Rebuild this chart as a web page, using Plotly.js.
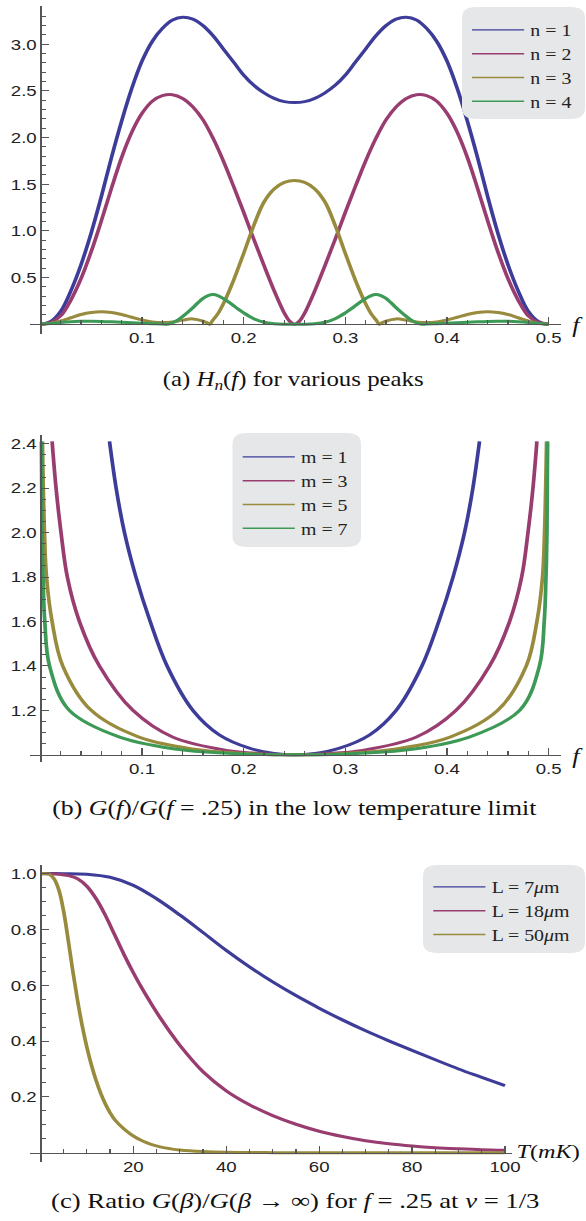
<!DOCTYPE html>
<html>
<head>
<meta charset="utf-8">
<script src="https://cdn.plot.ly/plotly-3.0.1.min.js"></script>
<style>
  html, body { margin: 0; padding: 0; background: #ffffff; }
  #wrap { width: 586px; height: 1221px; overflow: hidden; position: relative; }
  #plot { width: 472px; height: 1221px; transform-origin: 0 0; }
</style>
</head>
<body>
<div id="wrap"><div id="plot"></div></div>
<script>
// ---------------- data: panel (a) H_n(f) ----------------
const seriesA = ['n = 1', 'n = 2', 'n = 3', 'n = 4'];
const fA_n1 = [0,0.01,0.02,0.03,0.04,0.05,0.06,0.07,0.08,0.09,0.10,0.11,0.12,0.13,0.14,0.15,0.16,0.17,0.18,0.19,0.20,0.21,0.22,0.23,0.24,0.25,
  0.26,0.27,0.28,0.29,0.30,0.31,0.32,0.33,0.34,0.35,0.36,0.37,0.38,0.39,0.40,0.41,0.42,0.43,0.44,0.45,0.46,0.47,0.48,0.49,0.50];
const hA_n1 = [0,0.03,0.14,0.36,0.64,0.98,1.37,1.79,2.18,2.53,2.82,3.03,3.17,3.26,3.29,3.27,3.20,3.09,2.95,2.81,2.67,2.56,2.48,2.42,2.385,2.375,
  2.385,2.42,2.48,2.56,2.67,2.81,2.95,3.09,3.20,3.27,3.29,3.26,3.17,3.03,2.82,2.53,2.18,1.79,1.37,0.98,0.64,0.36,0.14,0.03,0];
const fA_n2 = [0,0.01,0.02,0.03,0.04,0.05,0.06,0.07,0.08,0.09,0.10,0.11,0.12,0.13,0.14,0.15,0.16,0.17,0.18,0.19,0.20,0.21,0.22,0.23,0.24,0.245,0.25,
  0.255,0.26,0.27,0.28,0.29,0.30,0.31,0.32,0.33,0.34,0.35,0.36,0.37,0.38,0.39,0.40,0.41,0.42,0.43,0.44,0.45,0.46,0.47,0.48,0.49,0.50];
const hA_n2 = [0,0.02,0.09,0.26,0.49,0.78,1.11,1.46,1.79,2.06,2.26,2.39,2.45,2.46,2.42,2.33,2.19,1.99,1.75,1.48,1.20,0.91,0.63,0.36,0.12,0.035,0,
  0.035,0.12,0.36,0.63,0.91,1.20,1.48,1.75,1.99,2.19,2.33,2.42,2.46,2.45,2.39,2.26,2.06,1.79,1.46,1.11,0.78,0.49,0.26,0.09,0.02,0];
const fA_n3 = [0,0.01,0.02,0.03,0.04,0.05,0.06,0.07,0.08,0.09,0.10,0.11,0.12,0.13,0.14,0.15,0.16,0.1647,0.1667,0.1687,0.175,0.18,0.19,0.20,0.21,0.22,0.23,0.24,0.25,
  0.26,0.27,0.28,0.29,0.30,0.31,0.32,0.325,0.3313,0.3333,0.3353,0.34,0.35,0.36,0.37,0.38,0.39,0.40,0.41,0.42,0.43,0.44,0.45,0.46,0.47,0.48,0.49,0.50];
const hA_n3 = [0,0.01,0.035,0.07,0.105,0.127,0.135,0.127,0.105,0.075,0.047,0.026,0.018,0.025,0.045,0.058,0.035,0.012,0,0.03,0.12,0.22,0.47,0.76,1.06,1.31,1.45,1.52,1.54,
  1.52,1.45,1.31,1.06,0.76,0.47,0.22,0.12,0.03,0,0.012,0.035,0.058,0.045,0.025,0.018,0.026,0.047,0.075,0.105,0.127,0.135,0.127,0.105,0.07,0.035,0.01,0];
const fA_n4 = [0,0.01,0.02,0.03,0.04,0.05,0.06,0.07,0.08,0.09,0.10,0.11,0.12,0.123,0.125,0.127,0.13,0.135,0.14,0.145,0.15,0.155,0.16,0.165,0.17,0.175,0.18,0.185,0.19,0.195,0.20,0.21,0.22,0.23,0.24,0.25,
  0.26,0.27,0.28,0.29,0.30,0.305,0.31,0.315,0.32,0.325,0.33,0.335,0.34,0.345,0.35,0.355,0.36,0.365,0.37,0.373,0.375,0.377,0.38,0.39,0.40,0.41,0.42,0.43,0.44,0.45,0.46,0.47,0.48,0.49,0.50];
const hA_n4 = [0,0.008,0.02,0.028,0.032,0.033,0.031,0.027,0.022,0.016,0.011,0.006,0.002,0.001,0,0.004,0.016,0.045,0.085,0.13,0.178,0.23,0.278,0.308,0.318,0.305,0.276,0.24,0.20,0.16,0.122,0.06,0.022,0.006,0.001,0,
  0.001,0.006,0.022,0.06,0.122,0.16,0.20,0.24,0.276,0.305,0.318,0.308,0.278,0.23,0.178,0.13,0.085,0.045,0.016,0.004,0,0.001,0.002,0.006,0.011,0.016,0.022,0.027,0.031,0.033,0.032,0.028,0.02,0.008,0];

// ---------------- data: panel (b) G(f)/G(f=.25) ----------------
const seriesB = ['m = 1', 'm = 3', 'm = 5', 'm = 7'];
const fB_m1 = [0.068,0.0745,0.0827,0.094,0.108,0.1246,0.150,0.176,0.2056,0.23,0.25,0.27,0.2944,0.324,0.350,0.3754,0.392,0.406,0.4173,0.4255,0.432];
const gB_m1 = [2.41,2.2,2.0,1.8,1.6,1.4,1.2,1.09,1.03,1.006,1.0,1.006,1.03,1.09,1.2,1.4,1.6,1.8,2.0,2.2,2.41];
const fB_m3 = [0.0115,0.0154,0.0203,0.0265,0.0384,0.058,0.091,0.130,0.183,0.22,0.25,0.28,0.317,0.370,0.409,0.442,0.4616,0.4735,0.4797,0.4846,0.4885];
const gB_m3 = [2.41,2.2,2.0,1.8,1.6,1.4,1.2,1.08,1.02,1.005,1.0,1.005,1.02,1.08,1.2,1.4,1.6,1.8,2.0,2.2,2.41];
const fB_m5 = [0.002,0.004,0.006,0.0115,0.022,0.050,0.097,0.16,0.21,0.25,0.29,0.34,0.403,0.450,0.478,0.4885,0.494,0.496,0.498];
const gB_m5 = [2.41,2.0,1.8,1.6,1.4,1.2,1.08,1.02,1.004,1.0,1.004,1.02,1.08,1.2,1.4,1.6,1.8,2.0,2.41];
const fB_m7 = [0.001,0.0016,0.0026,0.0043,0.009,0.0285,0.078,0.143,0.20,0.25,0.30,0.357,0.422,0.4715,0.491,0.4957,0.4974,0.4984,0.499];
const gB_m7 = [2.41,2.0,1.8,1.6,1.4,1.2,1.08,1.02,1.004,1.0,1.004,1.02,1.08,1.2,1.4,1.6,1.8,2.0,2.41];

// ---------------- data: panel (c) G(beta)/G(beta->inf) vs T ----------------
const seriesC = ['L = 7<i>μ</i>m', 'L = 18<i>μ</i>m', 'L = 50<i>μ</i>m'];
const tC_L7 = [0,5,10,15,20,25,30,35,40,45,50,55,60,65,70,75,80,85,90,95,100];
const gC_L7 = [1.0,1.0,0.998,0.987,0.958,0.91,0.852,0.789,0.725,0.666,0.612,0.563,0.518,0.476,0.437,0.401,0.367,0.333,0.30,0.27,0.24];
const tC_L18 = [0,2,4,6,8,10,12,14,16,18,20,22,24,26,28,30,35,40,45,50,55,60,65,70,75,80,85,90,95,100];
const gC_L18 = [1.0,1.0,0.998,0.993,0.982,0.955,0.91,0.85,0.78,0.71,0.645,0.585,0.53,0.478,0.43,0.385,0.29,0.222,0.172,0.133,0.102,0.077,0.058,0.043,0.032,0.024,0.018,0.014,0.011,0.009];
const tC_L50 = [0,1,2,3,4,5,6,7,8,9,10,11,12,13,14,15,16,18,20,22,24,26,28,30,35,40,50,60,70,80,90,100];
const gC_L50 = [1.0,1.0,0.997,0.98,0.94,0.865,0.76,0.648,0.545,0.455,0.378,0.313,0.258,0.212,0.174,0.143,0.118,0.085,0.06,0.042,0.029,0.02,0.014,0.0095,0.004,0.0015,0.0002,0,0,0,0,0];

// ---------------- tick labels ----------------
const tickA_x = [0.1,0.2,0.3,0.4,0.5];
const tickA_xText = ['0.1','0.2','0.3','0.4','0.5'];
const tickA_y = [0.5,1.0,1.5,2.0,2.5,3.0];
const tickA_yText = ['0.5','1.0','1.5','2.0','2.5','3.0'];
const tickB_y = [1.2,1.4,1.6,1.8,2.0,2.2,2.4];
const tickB_yText = ['1.2','1.4','1.6','1.8','2.0','2.2','2.4'];
const tickC_x = [20,40,60,80,100];
const tickC_xText = ['20','40','60','80','100'];
const tickC_y = [0.2,0.4,0.6,0.8,1.0];
const tickC_yText = ['0.2','0.4','0.6','0.8','1.0'];

const colors = ['#3D3D99', '#993D71', '#998B3D', '#3D9956'];

// ---------------- geometry (reference is stretched horizontally) ----------------
const W = 472, H = 1221, S = 586 / W;
document.getElementById('plot').style.transform = 'scaleX(' + S + ')';
const X = v => v / 586;      // reference pixel x -> paper
const Y = v => 1 - v / H;    // reference pixel y -> paper

function steps(a, b, d) { const out = []; for (let k = 0; a + k * d <= b + 1e-9; k++) out.push(+(a + k * d).toFixed(4)); return out; }

const axisColor = '#555555';
const tickFont = {family: 'Liberation Sans, Arial, sans-serif', size: 15, color: '#222222'};
function xAxis(o) {
  return Object.assign({
    anchor: 'free', showline: true, linecolor: axisColor, linewidth: 1, zeroline: false, showgrid: false,
    ticks: 'inside', ticklen: 7, tickwidth: 1, tickcolor: axisColor, tickmode: 'array', tickfont: tickFont,
    fixedrange: true
  }, o);
}
function yAxis(o) {
  return Object.assign({
    anchor: 'free', showline: true, linecolor: axisColor, linewidth: 1, zeroline: false, showgrid: false,
    ticks: 'inside', ticklen: 7 / S, tickwidth: 1, tickcolor: axisColor, tickmode: 'array', tickfont: tickFont,
    fixedrange: true
  }, o);
}
const minorX = vals => ({tickmode: 'array', tickvals: vals, ticks: 'inside', ticklen: 4, tickwidth: 1, tickcolor: axisColor});
const minorY = vals => ({tickmode: 'array', tickvals: vals, ticks: 'inside', ticklen: 4 / S, tickwidth: 1, tickcolor: axisColor});

// ---------------- traces ----------------
const traces = [];
function addSeries(xs, ys, name, color, xa, ya, lg) {
  traces.push({x: xs, y: ys, type: 'scatter', mode: 'lines', name: name, legendgroup: lg + name,
    line: {color: color, width: 3, shape: 'spline', smoothing: 1}, xaxis: xa, yaxis: ya,
    showlegend: false, hoverinfo: 'skip'});
  traces.push({x: [null], y: [null], type: 'scatter', mode: 'lines', name: name, legendgroup: lg + name,
    line: {color: color, width: 1.4}, xaxis: xa, yaxis: ya, legend: lg, showlegend: true, hoverinfo: 'skip'});
}
addSeries(fA_n1, hA_n1, seriesA[0], colors[0], 'x', 'y', 'legend');
addSeries(fA_n2, hA_n2, seriesA[1], colors[1], 'x', 'y', 'legend');
addSeries(fA_n3, hA_n3, seriesA[2], colors[2], 'x', 'y', 'legend');
addSeries(fA_n4, hA_n4, seriesA[3], colors[3], 'x', 'y', 'legend');
addSeries(fB_m1, gB_m1, seriesB[0], colors[0], 'x2', 'y2', 'legend2');
addSeries(fB_m3, gB_m3, seriesB[1], colors[1], 'x2', 'y2', 'legend2');
addSeries(fB_m5, gB_m5, seriesB[2], colors[2], 'x2', 'y2', 'legend2');
addSeries(fB_m7, gB_m7, seriesB[3], colors[3], 'x2', 'y2', 'legend2');
addSeries(tC_L7, gC_L7, seriesC[0], colors[0], 'x3', 'y3', 'legend3');
addSeries(tC_L18, gC_L18, seriesC[1], colors[1], 'x3', 'y3', 'legend3');
addSeries(tC_L50, gC_L50, seriesC[2], colors[2], 'x3', 'y3', 'legend3');

// ---------------- legend boxes (rounded) ----------------
function roundBox(x0, y0, x1, y1, rx, ry) {
  const p = (x, y) => X(x) + ',' + Y(y);
  return 'M' + p(x0 + rx, y0) + ' L' + p(x1 - rx, y0) + ' Q' + p(x1, y0) + ' ' + p(x1, y0 + ry) +
    ' L' + p(x1, y1 - ry) + ' Q' + p(x1, y1) + ' ' + p(x1 - rx, y1) +
    ' L' + p(x0 + rx, y1) + ' Q' + p(x0, y1) + ' ' + p(x0, y1 - ry) +
    ' L' + p(x0, y0 + ry) + ' Q' + p(x0, y0) + ' ' + p(x0 + rx, y0) + ' Z';
}
const boxStyle = {type: 'path', xref: 'paper', yref: 'paper', fillcolor: '#e6e7e9', line: {width: 0}, layer: 'above'};
const shapes = [
  Object.assign({path: roundBox(462, 7, 585, 119, 14, 11)}, boxStyle),
  Object.assign({path: roundBox(232.5, 433, 361, 547, 14, 11)}, boxStyle),
  Object.assign({path: roundBox(423, 865, 585, 953, 14, 11)}, boxStyle)
];

const legendFont = {family: 'Liberation Serif, Times New Roman, serif', size: 16, color: '#222222'};
function legendAt(lineStartX, topY) {
  return {x: X(lineStartX - 5 * S), xanchor: 'left', y: Y(topY), yanchor: 'top', bgcolor: 'rgba(0,0,0,0)',
    borderwidth: 0, font: legendFont, itemwidth: 42, tracegroupgap: 0, traceorder: 'normal',
    itemclick: false, itemdoubleclick: false};
}

const serif = 'Liberation Serif, Times New Roman, serif';
function note(text, x, y, size, xanchor) {
  return {text: text, xref: 'paper', yref: 'paper', x: X(x), y: Y(y), xanchor: xanchor || 'center', yanchor: 'middle',
    showarrow: false, font: {family: serif, size: size, color: '#111111'}};
}

const layout = {
  width: W, height: H, margin: {l: 0, r: 0, t: 0, b: 0}, paper_bgcolor: '#ffffff', plot_bgcolor: 'rgba(0,0,0,0)',
  showlegend: true,
  xaxis: xAxis({domain: [X(30), X(560.5)], range: [-0.01023, 0.5117], position: Y(324.3),
    tickvals: tickA_x, ticktext: tickA_xText, minor: minorX(steps(0, 0.5, 0.02))}),
  yaxis: yAxis({domain: [Y(334), Y(6)], range: [-0.104, 3.41], position: X(40.4),
    tickvals: tickA_y, ticktext: tickA_yText, minor: minorY(steps(0.1, 3.4, 0.1))}),
  xaxis2: xAxis({domain: [X(30), X(560.5)], range: [-0.01023, 0.5117], position: Y(755.2),
    tickvals: tickA_x, ticktext: tickA_xText, minor: minorX(steps(0, 0.5, 0.02))}),
  yaxis2: yAxis({domain: [Y(762), Y(435)], range: [0.9676, 2.439], position: X(40.4),
    tickvals: tickB_y, ticktext: tickB_yText, minor: minorY(steps(1.05, 2.4, 0.05))}),
  xaxis3: xAxis({domain: [X(30), X(511.7)], range: [-2.24, 101.44], position: Y(1152.7),
    tickvals: tickC_x, ticktext: tickC_xText, minor: minorX(steps(5, 100, 5))}),
  yaxis3: yAxis({domain: [Y(1161.5), Y(865)], range: [-0.0315, 1.031], position: X(40.4),
    tickvals: tickC_y, ticktext: tickC_yText, minor: minorY(steps(0.05, 1.0, 0.05))}),
  legend: legendAt(472, 13),
  legend2: legendAt(242.7, 440),
  legend3: legendAt(433.3, 870),
  shapes: shapes,
  annotations: [
    note('<i>f</i>', 578, 325, 21),
    note('<i>f</i>', 578, 756, 21),
    note('<i>T</i>(<i>mK</i>)', 582, 1152, 19.5, 'right'),
    note('(a) <i>H</i><sub><i>n</i></sub>(<i>f</i>) for various peaks', 293, 380, 20),
    note('(b) <i>G</i>(<i>f</i>)/<i>G</i>(<i>f</i> = .25) in the low temperature limit', 294, 808, 20.8),
    note('(c) Ratio <i>G</i>(<i>β</i>)/<i>G</i>(<i>β</i> → ∞) for <i>f</i> = .25 at <i>ν</i> = 1/3', 296, 1201, 21.5)
  ]
};

Plotly.newPlot('plot', traces, layout, {staticPlot: true, displayModeBar: false, responsive: false});
</script>
</body>
</html>
